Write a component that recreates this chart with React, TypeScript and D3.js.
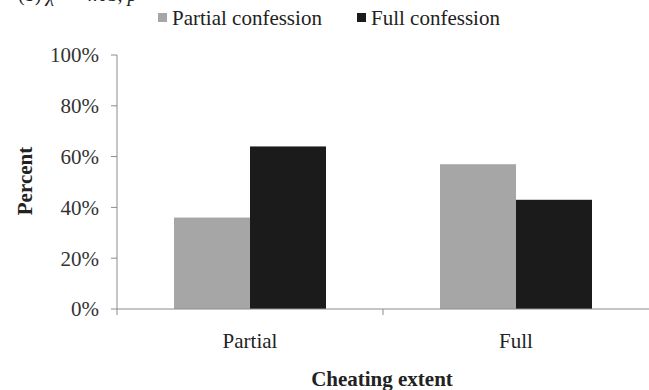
import React from "react";
import * as d3 from "d3";

const categories = ["Partial", "Full"];
const seriesNames = ["Partial confession", "Full confession"];
const partialConfession = [0.36, 0.57];
const fullConfession = [0.64, 0.43];
const yTicks = [0, 0.2, 0.4, 0.6, 0.8, 1.0];
const colors = ["#a6a6a6", "#1b1b1b"];

const W = 649;
const H = 390;
const left = 117;
const right = 649;
const top = 55;
const bottom = 309;

export default function App() {
  const x0 = d3.scaleBand<string>().domain(categories).range([left, right]).padding(0);
  const x1 = d3
    .scaleBand<string>()
    .domain(seriesNames)
    .range([0, x0.bandwidth()])
    .paddingInner(0)
    .paddingOuter(0.75);
  const y = d3.scaleLinear().domain([0, 1]).range([bottom, top]);
  const values = [partialConfession, fullConfession];
  const axisColor = "#8c8c8c";
  const textStyle = { fontFamily: "Liberation Serif, serif" };

  return (
    <svg
      width={W}
      height={H}
      style={{ position: "absolute", left: 0, top: 0, background: "#fff", fontFamily: "Liberation Serif, serif" }}
    >
      <rect x={0} y={0} width={W} height={H} fill="#fff" />
      {/* clipped caption remnant */}
      <text x={18} y={1} fontSize={20} fill="#222" style={textStyle}>
        (b) <tspan fontStyle="italic">χ</tspan>² = 4.03, <tspan fontStyle="italic">p</tspan>
      </text>

      {/* legend */}
      {seriesNames.map((s, i) => {
        const lx = i === 0 ? 158 : 357;
        return (
          <g key={s}>
            <rect x={lx} y={13} width={9} height={9} fill={colors[i]} />
            <text x={lx + 14} y={25} fontSize={21} fill="#222" style={textStyle}>
              {s}
            </text>
          </g>
        );
      })}

      {/* bars */}
      {categories.map((c, ci) => (
        <g key={c}>
          {seriesNames.map((s, si) => {
            const v = values[si][ci];
            return (
              <rect
                key={s}
                x={(x0(c) as number) + (x1(s) as number)}
                y={y(v)}
                width={x1.bandwidth()}
                height={y(0) - y(v)}
                fill={colors[si]}
              />
            );
          })}
        </g>
      ))}

      {/* y axis */}
      <line x1={left} x2={left} y1={y(1)} y2={y(0)} stroke={axisColor} strokeWidth={1} />
      {yTicks.map((t) => (
        <g key={t}>
          <line x1={left - 6} x2={left} y1={y(t)} y2={y(t)} stroke={axisColor} />
          <text
            x={99}
            y={y(t)}
            dy="0.35em"
            textAnchor="end"
            fontSize={21}
            fill="#333"
            style={textStyle}
          >
            {d3.format(".0%")(t)}
          </text>
        </g>
      ))}

      {/* x axis */}
      <line x1={left} x2={right} y1={bottom} y2={bottom} stroke={axisColor} />
      {[left, (x0("Full") as number)].map((px, i) => (
        <line key={i} x1={px} x2={px} y1={bottom} y2={bottom + 6} stroke={axisColor} />
      ))}
      {categories.map((c) => (
        <text
          key={c}
          x={(x0(c) as number) + x0.bandwidth() / 2}
          y={348}
          textAnchor="middle"
          fontSize={21}
          fill="#222"
          style={textStyle}
        >
          {c}
        </text>
      ))}

      <text x={382} y={386} textAnchor="middle" fontSize={21} fontWeight="bold" fill="#222" style={textStyle}>
        Cheating extent
      </text>
      <text
        transform={`translate(32,181) rotate(-90)`}
        textAnchor="middle"
        fontSize={21}
        fontWeight="bold"
        fill="#222"
        style={textStyle}
      >
        Percent
      </text>
    </svg>
  );
}
